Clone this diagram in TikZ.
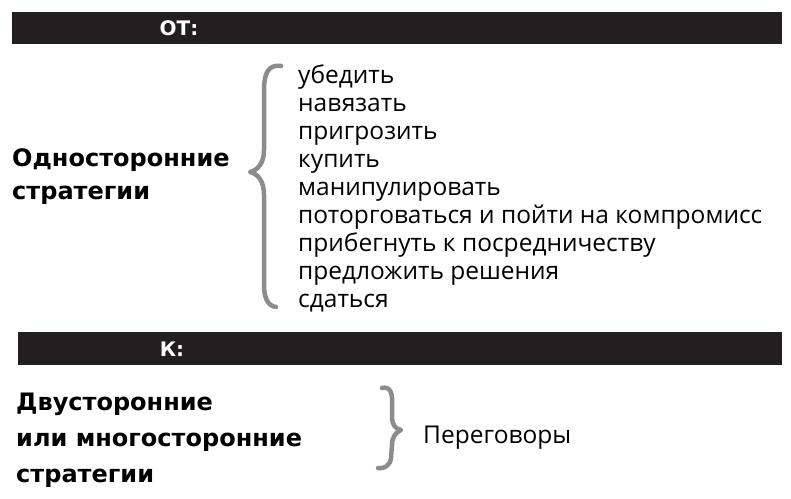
\documentclass[tikz,border=0pt]{standalone}
\usepackage{fontspec}
\setmainfont{Open Sans}
\newfontfamily\headfont{DejaVu Sans}
\usetikzlibrary{positioning}
\definecolor{barblack}{HTML}{231F20}
\definecolor{bracegray}{HTML}{8C8C8C}
\tikzset{
	bar/.style={fill=barblack,draw=none,inner sep=0,anchor=north west},
	bartext/.style={text=white,font=\headfont\bfseries\fontsize{20}{20}\selectfont,inner sep=0},
	heading/.style={anchor=west,align=left,inner sep=0},
	items/.style={anchor=west,align=left,inner sep=0,font=\fontsize{24.5}{28}\selectfont},
	brace/.style={draw=bracegray,line width=4.5pt,line cap=round,line join=round}
}

\begin{document}
\begin{tikzpicture}[x=1pt,y=-1pt]
	\useasboundingbox (0,0) rectangle (791,498);
	\node [bar,minimum width=770pt,minimum height=32pt] (fromBar) at (12,12) {};
	\node [bartext] (fromLabel) at (179,28) {ОТ:};
	\node [heading,font=\headfont\bfseries\fontsize{24}{33}\selectfont] (oneSided) at (12,177) {Односторонние\\стратегии};
	\node [items] (oneList) at (298,188) {убедить\\навязать\\пригрозить\\купить\\манипулировать\\поторговаться и пойти на компромисс\\прибегнуть к посредничеству\\предложить решения\\сдаться};
	\draw [brace] (281,66) .. controls (268,64) and (264,74) .. (264,90) -- (264,150) .. controls (264,163) and (258,170) .. (250,172) .. controls (258,174) and (264,181) .. (264,195) -- (264,285) .. controls (264,298) and (268,306) .. (276,307);
	\node [bar,minimum width=764pt,minimum height=33pt] (toBar) at (18,332) {};
	\node [bartext] (toLabel) at (172,349) {К:};
	\node [heading,font=\headfont\bfseries\fontsize{24}{36}\selectfont] (manySided) at (16,440) {Двусторонние\\или многосторонние\\стратегии};
	\draw [brace] (382,388) .. controls (390,386) and (393,393) .. (392,405) -- (392,418) .. controls (392,425) and (396,429) .. (401,430) .. controls (396,432) and (392,437) .. (392,445) -- (391,458) .. controls (390,466) and (384,469) .. (378,468);
	\node [items] (talks) at (423,438) {Переговоры};
\end{tikzpicture}
\end{document}
